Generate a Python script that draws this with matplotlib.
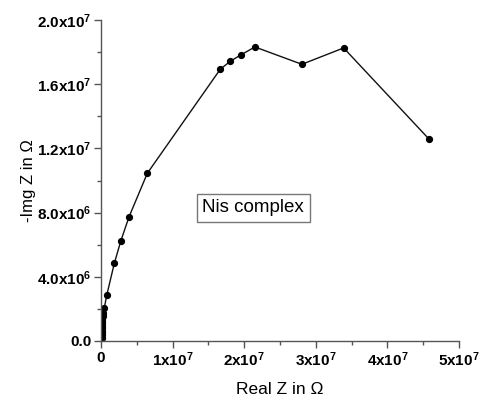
import matplotlib
matplotlib.use("Agg")
import matplotlib.pyplot as plt
from matplotlib.ticker import MultipleLocator

plt.rcParams['font.family'] = ['Liberation Sans', 'DejaVu Sans']
plt.rcParams['mathtext.fontset'] = 'custom'
plt.rcParams['mathtext.rm'] = 'Liberation Sans:bold'
plt.rcParams['mathtext.it'] = 'Liberation Sans:bold'
plt.rcParams['mathtext.bf'] = 'Liberation Sans:bold'

real_z = [0.05e6, 0.06e6, 0.07e6, 0.08e6, 0.09e6, 0.10e6, 0.12e6, 0.14e6, 0.16e6, 0.18e6,
          0.20e6, 0.22e6, 0.25e6, 0.46e6, 0.80e6, 1.86e6, 2.75e6, 3.91e6, 6.47e6,
          16.66e6, 18.06e6, 19.6e6, 21.5e6, 28.07e6, 33.9e6, 45.85e6]
imag_z = [0.0, 0.1e6, 0.2e6, 0.35e6, 0.5e6, 0.65e6, 0.8e6, 0.95e6, 1.1e6, 1.25e6,
          1.4e6, 1.55e6, 1.75e6, 2.06e6, 2.85e6, 4.84e6, 6.21e6, 7.73e6, 10.45e6,
          16.93e6, 17.43e6, 17.84e6, 18.32e6, 17.24e6, 18.26e6, 12.57e6]

x_ticks = [0, 1e7, 2e7, 3e7, 4e7, 5e7]
x_labels = ['0', r'$\mathregular{1x10^7}$', r'$\mathregular{2x10^7}$', r'$\mathregular{3x10^7}$',
            r'$\mathregular{4x10^7}$', r'$\mathregular{5x10^7}$']
y_ticks = [0, 4e6, 8e6, 1.2e7, 1.6e7, 2.0e7]
y_labels = ['0.0', r'$\mathregular{4.0x10^6}$', r'$\mathregular{8.0x10^6}$', r'$\mathregular{1.2x10^7}$',
            r'$\mathregular{1.6x10^7}$', r'$\mathregular{2.0x10^7}$']

fig = plt.figure(figsize=(4.81, 4.0), dpi=100)
ax = fig.add_axes([0.21, 0.1475, 0.744, 0.8025])

ax.plot(real_z, imag_z, color='#111111', lw=1.0, marker='o', ms=4.2,
        markerfacecolor='black', markeredgecolor='black')

ax.set_xlim(0, 5e7)
ax.set_ylim(0, 2e7)
ax.spines['top'].set_visible(False)
ax.spines['right'].set_visible(False)
for s in ['left', 'bottom']:
    ax.spines[s].set_color('#555555')
    ax.spines[s].set_linewidth(1.0)

ax.set_xticks(x_ticks)
ax.set_xticklabels(x_labels)
ax.set_yticks(y_ticks)
ax.set_yticklabels(y_labels)
ax.xaxis.set_minor_locator(MultipleLocator(5e6))
ax.yaxis.set_minor_locator(MultipleLocator(2e6))
ax.tick_params(which='major', direction='out', length=5, width=1, color='#555555',
               labelsize=11, pad=2)
ax.tick_params(which='minor', direction='out', length=3, width=1, color='#555555')
for lab in ax.get_xticklabels() + ax.get_yticklabels():
    lab.set_fontweight('bold')

ax.set_xlabel('Real Z in Ω', fontsize=12.5, labelpad=9)
ax.set_ylabel('-Img Z in Ω', fontsize=12, labelpad=1)

ax.text(253, 400 - 208, 'Nis complex', transform=None, fontsize=13.5,
        ha='center', va='center',
        bbox=dict(boxstyle='square,pad=0.3', facecolor='white', edgecolor='#777777', lw=1))

fig.savefig('out.png', dpi=100)
